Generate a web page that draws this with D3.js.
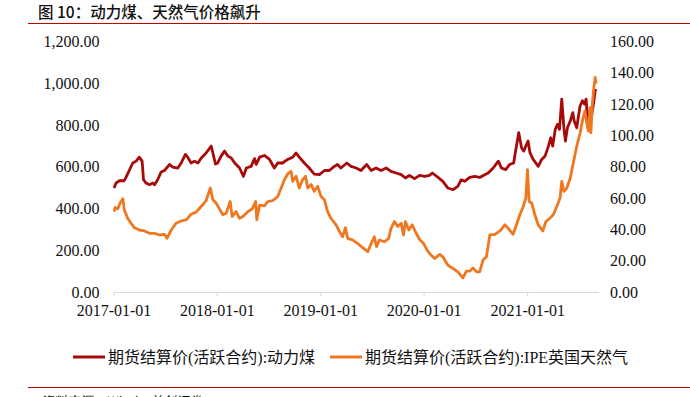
<!DOCTYPE html>
<html>
<head>
<meta charset="utf-8">
<script src="https://cdn.jsdelivr.net/npm/d3@7"></script>
<style>
  body { margin: 0; background: #fff; }
  svg { display: block; }
  text { font-family: "Liberation Serif", "Noto Sans CJK SC", serif; fill: #111; }
  .title, .source { font-family: "Noto Sans CJK SC", sans-serif; white-space: pre; }
</style>
</head>
<body>
<svg id="chart"></svg>
<script>
// coal futures settlement (left axis)
const coalDates = ["2017-01-03","2017-01-10","2017-01-22","2017-02-08","2017-02-14","2017-03-10","2017-03-22","2017-04-02","2017-04-12","2017-04-17","2017-04-26","2017-05-08","2017-05-20","2017-05-26","2017-06-06","2017-06-18","2017-06-30","2017-07-18","2017-07-29","2017-08-16","2017-08-28","2017-09-12","2017-09-20","2017-10-02","2017-10-14","2017-10-26","2017-11-07","2017-11-24","2017-12-12","2017-12-18","2017-12-27","2018-01-04","2018-01-16","2018-01-28","2018-02-09","2018-02-21","2018-03-05","2018-03-22","2018-04-05","2018-04-15","2018-05-02","2018-05-14","2018-05-20","2018-06-01","2018-06-18","2018-07-06","2018-07-23","2018-08-04","2018-08-21","2018-09-08","2018-09-26","2018-10-08","2018-10-19","2018-11-06","2018-11-23","2018-12-11","2018-12-29","2019-01-16","2019-02-02","2019-02-20","2019-03-03","2019-03-15","2019-04-05","2019-04-20","2019-05-08","2019-05-25","2019-06-14","2019-06-30","2019-07-17","2019-08-04","2019-08-22","2019-09-08","2019-09-26","2019-10-14","2019-10-29","2019-11-12","2019-11-30","2019-12-18","2020-01-05","2020-01-22","2020-02-01","2020-02-21","2020-03-09","2020-03-27","2020-04-14","2020-05-01","2020-05-13","2020-05-25","2020-06-12","2020-06-30","2020-07-17","2020-08-04","2020-08-16","2020-09-03","2020-09-21","2020-10-02","2020-10-17","2020-10-31","2020-11-14","2020-11-24","2020-12-02","2020-12-12","2020-12-20","2020-12-27","2021-01-04","2021-01-11","2021-01-22","2021-02-09","2021-02-21","2021-03-05","2021-03-17","2021-03-25","2021-04-01","2021-04-10","2021-04-18","2021-04-25","2021-05-03","2021-05-11","2021-05-16","2021-05-23","2021-06-02","2021-06-11","2021-06-16","2021-06-25","2021-07-01","2021-07-07","2021-07-15","2021-07-22","2021-07-28","2021-08-04","2021-08-11","2021-08-17","2021-08-23","2021-08-29","2021-09-01"];
const coalValues = [498,522,533,533,549,618,627,646,627,538,522,514,522,514,538,575,582,611,598,594,618,659,646,618,627,618,642,666,699,666,613,618,651,675,651,642,618,594,554,594,602,639,611,646,654,635,594,618,618,635,646,666,646,618,594,565,562,582,582,602,611,594,618,602,594,582,611,582,594,582,594,578,570,562,546,559,543,559,554,559,570,549,530,498,490,506,538,530,549,554,549,562,570,594,627,594,586,611,618,699,763,691,675,699,723,666,635,602,635,651,699,739,699,779,803,779,924,779,723,787,819,859,819,787,843,892,916,900,924,785,868,851,900,964,972];

// IPE UK natural gas (right axis)
const gasDates = ["2017-01-03","2017-01-07","2017-01-16","2017-01-24","2017-02-03","2017-02-08","2017-02-20","2017-03-04","2017-03-16","2017-04-02","2017-04-20","2017-05-08","2017-05-26","2017-06-12","2017-06-30","2017-07-09","2017-07-24","2017-08-10","2017-08-28","2017-09-15","2017-10-02","2017-10-20","2017-11-01","2017-11-12","2017-11-24","2017-12-09","2017-12-18","2017-12-30","2018-01-10","2018-01-22","2018-02-03","2018-02-17","2018-02-24","2018-03-10","2018-03-22","2018-04-03","2018-04-21","2018-05-06","2018-05-18","2018-05-22","2018-06-01","2018-06-18","2018-06-30","2018-07-17","2018-08-04","2018-08-16","2018-08-28","2018-09-08","2018-09-20","2018-09-26","2018-10-08","2018-10-19","2018-10-31","2018-11-10","2018-11-18","2018-11-30","2018-12-11","2018-12-23","2019-01-04","2019-01-16","2019-01-27","2019-02-08","2019-02-26","2019-03-10","2019-03-21","2019-03-31","2019-04-08","2019-04-26","2019-05-13","2019-05-31","2019-06-18","2019-06-30","2019-07-11","2019-07-19","2019-07-29","2019-08-16","2019-08-31","2019-09-08","2019-09-20","2019-10-02","2019-10-14","2019-10-22","2019-10-29","2019-11-10","2019-11-22","2019-12-06","2019-12-18","2020-01-01","2020-01-10","2020-01-22","2020-02-09","2020-02-27","2020-03-09","2020-03-27","2020-04-14","2020-05-01","2020-05-19","2020-05-31","2020-06-12","2020-06-24","2020-07-06","2020-07-17","2020-07-29","2020-08-10","2020-08-22","2020-09-09","2020-09-27","2020-10-14","2020-10-26","2020-11-12","2020-11-24","2020-12-06","2020-12-18","2020-12-27","2021-01-02","2021-01-08","2021-01-17","2021-01-28","2021-02-09","2021-02-25","2021-03-08","2021-03-22","2021-04-03","2021-04-18","2021-04-27","2021-05-03","2021-05-11","2021-05-21","2021-06-02","2021-06-14","2021-06-25","2021-07-07","2021-07-16","2021-07-24","2021-07-30","2021-08-05","2021-08-11","2021-08-14","2021-08-19","2021-08-23","2021-08-29","2021-09-01"];
const gasValues = [51.4,54,53.1,56.7,59.6,52.5,47.1,43.9,41.1,39.6,39,37.5,37.5,36.4,36.8,34.3,39.6,43.9,45.4,46.1,49.7,51,53.5,55.7,58.3,66.4,58.9,56.7,53.1,49.3,50.3,57.8,48.2,51.4,47.1,48.2,51.4,53.1,57.8,46.1,55.5,55,57.8,58.3,61,66.4,71.8,75.4,77.1,70.7,73.9,66.4,71.8,73.9,66.4,68.6,64.3,67.5,61,58.9,51.4,47.1,42.9,38.6,35.3,41.1,34.3,33.2,31,28.3,25.7,31,35.3,28.9,33.2,32.1,34.3,40.7,45,41.8,43.9,36.4,45,39.6,42.9,37.5,33.5,31,27.8,24.6,21.4,24,22.5,17.1,15,12.9,9,13.3,13.3,15.4,12.9,12.9,20.4,22.5,36.4,36.8,39,42.9,40.7,36.8,42.9,49.3,54.6,60,78.2,57.8,56.7,49.3,42.9,39,45,47.1,49.3,55.7,60,70.7,64.3,66.4,72.8,83.5,93.2,101.7,110.3,115.7,108.2,102.8,117.8,101.7,120,128.5,137,133];

const leftTicks = [0, 200, 400, 600, 800, 1000, 1200];
const rightTicks = [0, 20, 40, 60, 80, 100, 120, 140, 160];
const xTicks = ["2017-01-01", "2018-01-01", "2019-01-01", "2020-01-01", "2021-01-01"];
const seriesNames = ["期货结算价(活跃合约):动力煤", "期货结算价(活跃合约):IPE英国天然气"];
const seriesColors = ["#a80a0a", "#ee7720"];

const W = 690, H = 397;
const plot = {left: 113.5, right: 598, top: 41.5, bottom: 292};

const svg = d3.select("#chart").attr("width", W).attr("height", H);

//Title and header rule
svg.append("text")
    .attr("class", "title")
    .attr("x", 38)
    .attr("y", 18)
    .style("font-size", "15.5px")
    .style("font-weight", "500")
    .text("图 10：动力煤、天然气价格飙升");
svg.append("line")
    .attr("x1", 28).attr("x2", W)
    .attr("y1", 23.5).attr("y2", 23.5)
    .attr("stroke", "#c00000").attr("stroke-width", 1.2);

//Scales
const parse = d3.timeParse("%Y-%m-%d");
const xScale = d3.scaleTime()
    .domain([parse("2017-01-01"), parse("2021-09-08")])
    .range([plot.left, plot.right]);
const yLeft = d3.scaleLinear().domain([0, 1200]).range([plot.bottom, plot.top]);
const yRight = d3.scaleLinear().domain([0, 160]).range([plot.bottom, plot.top]);

//Axes
const xAxis = d3.axisBottom(xScale)
    .tickValues(xTicks.map(parse))
    .tickFormat(d3.timeFormat("%Y-%m-%d"))
    .tickSize(4)
    .tickSizeOuter(0);
const gx = svg.append("g")
    .attr("transform", `translate(0, ${plot.bottom})`)
    .call(xAxis);
gx.select(".domain").attr("stroke", "#d9d9d9");
gx.selectAll(".tick line").attr("stroke", "#d9d9d9");
gx.selectAll(".tick text").attr("dy", "1.05em").style("font-size", "16px").attr("fill", "#111");

const fmtLeft = d3.format(",.2f");
const gl = svg.append("g")
    .attr("transform", `translate(${plot.left - 14}, 0)`)
    .call(d3.axisLeft(yLeft).tickValues(leftTicks).tickFormat(fmtLeft).tickSize(0));
gl.select(".domain").remove();
gl.selectAll(".tick text").attr("x", 0).attr("dy", "0.32em").style("font-size", "16px").attr("fill", "#111");

const gr = svg.append("g")
    .attr("transform", `translate(${plot.right + 12}, 0)`)
    .call(d3.axisRight(yRight).tickValues(rightTicks).tickFormat(d3.format(".2f")).tickSize(0));
gr.select(".domain").remove();
gr.selectAll(".tick text").attr("x", 0).attr("dy", "0.32em").style("font-size", "16px").attr("fill", "#111");

//Lines
const coal = coalDates.map((d, i) => [parse(d), coalValues[i]]);
const gas = gasDates.map((d, i) => [parse(d), gasValues[i]]);

svg.append("path")
    .datum(coal)
    .attr("fill", "none")
    .attr("stroke", seriesColors[0])
    .attr("stroke-width", 2.8)
    .attr("stroke-linejoin", "round")
    .attr("d", d3.line().x(d => xScale(d[0])).y(d => yLeft(d[1])));

svg.append("path")
    .datum(gas)
    .attr("fill", "none")
    .attr("stroke", seriesColors[1])
    .attr("stroke-width", 2.8)
    .attr("stroke-linejoin", "round")
    .attr("d", d3.line().x(d => xScale(d[0])).y(d => yRight(d[1])));

//Legend
const legendX = [73, 330];
const legend = svg.selectAll(".legend")
    .data(seriesNames)
    .enter()
    .append("g")
    .attr("class", "legend")
    .attr("transform", (d, i) => `translate(${legendX[i]}, 357)`);
legend.append("line")
    .attr("x1", 0).attr("x2", 32)
    .attr("stroke", (d, i) => seriesColors[i])
    .attr("stroke-width", 3);
legend.append("text")
    .attr("x", 35)
    .attr("dy", "0.35em")
    .style("font-size", "16px")
    .text(d => d);

//Footer rule and source (cut by the bottom edge, as in the original)
svg.append("line")
    .attr("x1", 28).attr("x2", W)
    .attr("y1", 387.5).attr("y2", 387.5)
    .attr("stroke", "#c00000").attr("stroke-width", 1.2);
svg.append("text")
    .attr("class", "source")
    .attr("x", 40)
    .attr("y", 406)
    .style("font-size", "13px")
    .style("font-style", "italic")
    .text("资料来源：Wind，首创证券");
</script>
</body>
</html>
